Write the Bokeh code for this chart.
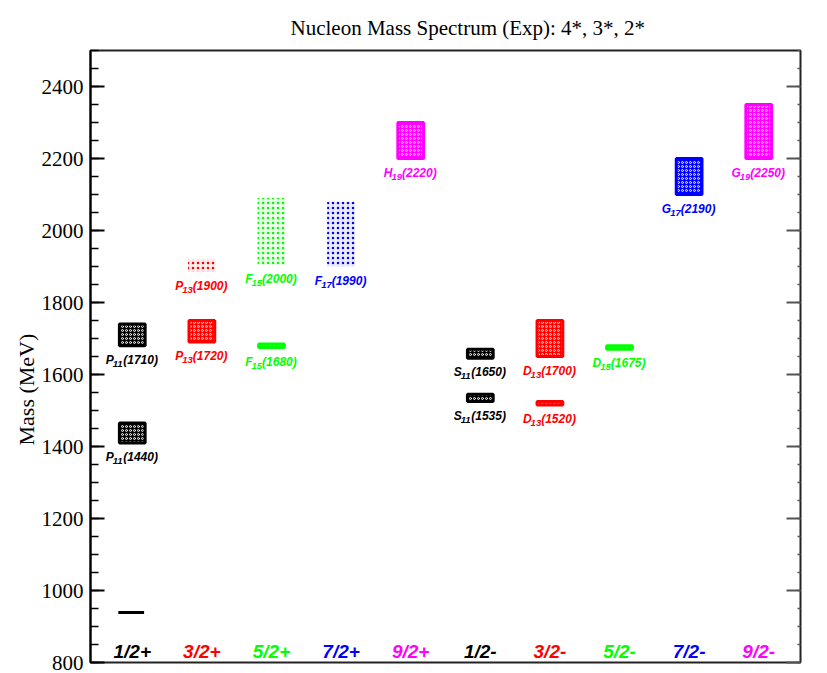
from bokeh.plotting import figure
from bokeh.models import ColumnDataSource, LinearAxis, FixedTicker, Range1d, CustomLabelingPolicy, Title
from bokeh.core.properties import value
from bokeh.embed import file_html
from bokeh.resources import INLINE

# ---------------- data ----------------
spins = ["1/2+", "3/2+", "5/2+", "7/2+", "9/2+", "1/2-", "3/2-", "5/2-", "7/2-", "9/2-"]
spin_colors = ["#000000", "#ff0000", "#00ff00", "#0000ff", "#ff00ff",
               "#000000", "#ff0000", "#00ff00", "#0000ff", "#ff00ff"]

res_letter = ["P", "P", "P", "P", "F", "F", "F", "H", "S", "S", "D", "D", "D", "G", "G"]
res_sub = ["11", "11", "13", "13", "15", "15", "17", "19", "11", "11", "13", "13", "15", "17", "19"]
res_name_mass = ["1440", "1710", "1720", "1900", "1680", "2000", "1990", "2220",
                 "1535", "1650", "1520", "1700", "1675", "2190", "2250"]
res_spin = [0, 0, 1, 1, 2, 2, 3, 4, 5, 5, 6, 6, 7, 8, 9]
res_low = [1410, 1680, 1690, 1885, 1675, 1905, 1900, 2200, 1525, 1645, 1515, 1650, 1670, 2100, 2200]
res_high = [1465, 1740, 1750, 1920, 1685, 2090, 2080, 2300, 1545, 1670, 1525, 1750, 1680, 2200, 2350]
res_stars = [4, 4, 4, 2, 4, 2, 2, 4, 4, 4, 4, 4, 4, 4, 4]
nucleon_mass = 939

y_major = [800, 1000, 1200, 1400, 1600, 1800, 2000, 2200, 2400]
y_minor = list(range(800, 2501, 50))

# ---------------- figure ----------------
p = figure(width=827, height=673, output_backend="svg", toolbar_location=None,
           x_range=Range1d(0.4, 10.6), y_range=Range1d(800, 2500),
           x_axis_location=None, title="Nucleon Mass Spectrum (Exp): 4*, 3*, 2*")
p.min_border_left = 90
p.min_border_right = 1
p.min_border_top = 50
p.min_border_bottom = 11
p.grid.visible = False
p.outline_line_color = "#222222"
p.outline_line_width = 2
p.background_fill_color = "white"
p.border_fill_color = "white"

p.title.text_font = "Liberation Serif"
p.title.text_font_size = "21px"
p.title.text_font_style = "normal"
p.title.text_color = "black"
p.title.align = "left"
p.title.offset = 200
p.title.standoff = 18
p.title.vertical_align = "top"

ticker = FixedTicker(ticks=y_major, minor_ticks=y_minor)
ya = p.yaxis[0]
ya.ticker = ticker
ya.major_label_text_font = "Liberation Serif"
ya.major_label_text_font_size = "21px"
ya.major_label_text_color = "black"
ya.major_tick_in = 14
ya.major_tick_out = 0
ya.minor_tick_in = 8
ya.minor_tick_out = 0
ya.axis_line_width = 2
ya.axis_line_color = "black"
ya.major_tick_line_width = 2
ya.minor_tick_line_width = 1.5
ya.major_label_standoff = 7

ylab = Title(text="Mass (MeV)", align="left", offset=217, standoff=0,
             text_font="Liberation Serif", text_font_size="22px",
             text_font_style="normal", text_color="black")
p.add_layout(ylab, "left")

ra = LinearAxis(ticker=ticker)
ra.major_label_policy = CustomLabelingPolicy(
    code="const arr = [...indices]; for (const i of arr) { indices.unset(i) } return indices")
ra.major_tick_in = 14
ra.major_tick_out = 0
ra.minor_tick_in = 3
ra.minor_tick_out = 0
ra.axis_line_color = None
ra.major_tick_line_color = "#555555"
ra.major_tick_line_width = 2
ra.minor_tick_line_color = "#555555"
ra.minor_tick_line_width = 1.5
ra.major_label_standoff = 0
p.add_layout(ra, "right")

# ---------------- boxes ----------------
def wid(s, size):
    w = {"P": .667, "F": .611, "H": .722, "S": .667, "D": .722, "G": .778, "(": .333, ")": .333}
    return sum(w.get(c, .556) for c in s) * size

xs = [i + 1 for i in res_spin]
cols = [spin_colors[i] for i in res_spin]
main_sz, sub_sz = 12, 9.5
lw = [wid(l, main_sz) for l in res_letter]
sw = [wid(s, sub_sz) for s in res_sub]
pw = [wid("(" + m + ")", main_sz) for m in res_name_mass]
tot = [a + b + c for a, b, c in zip(lw, sw, pw)]
off_letter = [-t / 2 for t in tot]
off_sub = [-t / 2 + a - 1 for t, a in zip(tot, lw)]
off_par = [-t / 2 + a + b - 1 for t, a, b in zip(tot, lw, sw)]

src = ColumnDataSource(dict(
    x=xs, low=res_low, high=res_high, color=cols,
    left4=[x - 0.185 if s > 2 else None for x, s in zip(xs, res_stars)],
    right4=[x + 0.185 if s > 2 else None for x, s in zip(xs, res_stars)],
    left2=[x - 0.2 if s <= 2 else None for x, s in zip(xs, res_stars)],
    right2=[x + 0.2 if s <= 2 else None for x, s in zip(xs, res_stars)],
    letter=res_letter, sub=res_sub, par=["(" + m + ")" for m in res_name_mass],
    ol=off_letter, osub=off_sub, opar=off_par,
))

p.quad(left="left4", right="right4", bottom="low", top="high", source=src,
       fill_color="color", fill_alpha=1.0, line_color="color", line_width=3,
       hatch_pattern="ring", hatch_color="white", hatch_scale=4, hatch_weight=1, hatch_alpha=0.9)
p.quad(left="left2", right="right2", bottom="low", top="high", source=src,
       fill_color="color", fill_alpha=0.08, line_color=None,
       hatch_pattern="dot", hatch_color="color", hatch_scale=5, hatch_weight=1.5, hatch_alpha=1.0)

font = value("Liberation Sans")
p.text(x="x", y="low", text="letter", source=src, x_offset="ol", y_offset=14,
       text_font=font, text_font_size=f"{main_sz}px", text_font_style="bold italic",
       text_color="color", text_align="left", text_baseline="alphabetic")
p.text(x="x", y="low", text="sub", source=src, x_offset="osub", y_offset=18,
       text_font=font, text_font_size=f"{sub_sz}px", text_font_style="bold italic",
       text_color="color", text_align="left", text_baseline="alphabetic")
p.text(x="x", y="low", text="par", source=src, x_offset="opar", y_offset=14,
       text_font=font, text_font_size=f"{main_sz}px", text_font_style="bold italic",
       text_color="color", text_align="left", text_baseline="alphabetic")

# nucleon ground state
p.segment(x0=[0.8], x1=[1.17], y0=[nucleon_mass], y1=[nucleon_mass], line_color="black", line_width=3)

# spin-parity labels
cat_src = ColumnDataSource(dict(x=list(range(1, 11)), y=[800] * 10, t=spins, c=spin_colors))
p.text(x="x", y="y", text="t", source=cat_src, y_offset=-1,
       text_font=font, text_font_size="19px", text_font_style="bold italic",
       text_color="c", text_align="center", text_baseline="bottom")

open("out.html", "w").write(file_html(p, INLINE))
